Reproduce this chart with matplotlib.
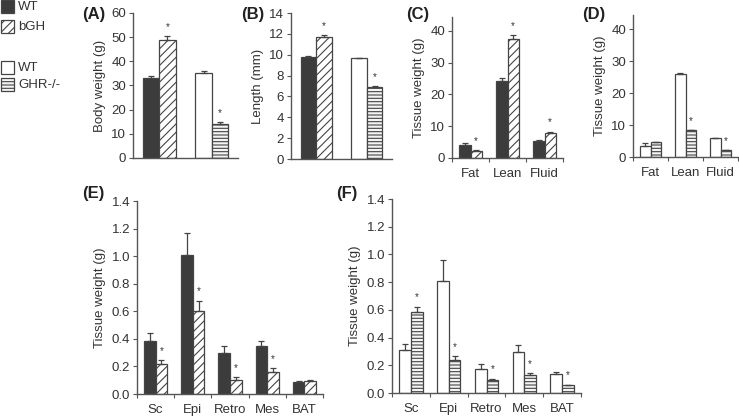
import numpy as np
import matplotlib
matplotlib.use("Agg")
import matplotlib.pyplot as plt
from matplotlib.patches import Rectangle

plt.rcParams['font.family'] = ['Liberation Sans', 'DejaVu Sans']
plt.rcParams['font.size'] = 9.5
plt.rcParams['hatch.linewidth'] = 0.8
plt.rcParams['text.color'] = '#333333'
plt.rcParams['axes.labelcolor'] = '#333333'
plt.rcParams['xtick.color'] = '#555555'
plt.rcParams['ytick.color'] = '#555555'
plt.rcParams['xtick.labelcolor'] = '#333333'
plt.rcParams['ytick.labelcolor'] = '#333333'

# (A) body weight
bw_wt1 = [33.0]; bw_wt1_err = [0.9]
bw_bgh = [49.0]; bw_bgh_err = [1.4]
bw_wt2 = [35.0]; bw_wt2_err = [1.1]
bw_ghr = [14.0]; bw_ghr_err = [0.7]

# (B) length
len_wt1 = [9.75]; len_wt1_err = [0.1]
len_bgh = [11.7]; len_bgh_err = [0.15]
len_wt2 = [9.7]; len_wt2_err = [0.0]
len_ghr = [6.95]; len_ghr_err = [0.05]

# (C) / (D) body composition
comp_labels = ['Fat', 'Lean', 'Fluid']
comp_wt1 = [4.0, 24.3, 5.5]; comp_wt1_err = [0.7, 0.8, 0.1]
comp_bgh = [2.3, 37.5, 8.0]; comp_bgh_err = [0.1, 1.2, 0.3]
comp_bgh_sig = [True, True, True]
comp_wt2 = [3.4, 25.9, 6.0]; comp_wt2_err = [1.0, 0.35, 0.0]
comp_ghr = [4.7, 8.5, 2.2]; comp_ghr_err = [0.1, 0.1, 0.1]
comp_ghr_sig = [False, True, True]

# (E) / (F) fat depots
depot_labels = ['Sc', 'Epi', 'Retro', 'Mes', 'BAT']
dep_wt1 = [0.386, 1.009, 0.297, 0.345, 0.087]
dep_wt1_err = [0.056, 0.157, 0.048, 0.041, 0.004]
dep_bgh = [0.22, 0.599, 0.104, 0.159, 0.094]
dep_bgh_err = [0.026, 0.079, 0.016, 0.029, 0.005]
dep_bgh_sig = [True, True, True, True, False]
dep_wt2 = [0.309, 0.809, 0.171, 0.297, 0.135]
dep_wt2_err = [0.048, 0.152, 0.041, 0.053, 0.017]
dep_ghr = [0.582, 0.241, 0.097, 0.128, 0.056]
dep_ghr_err = [0.041, 0.027, 0.007, 0.017, 0.004]
dep_ghr_sig = [True, True, True, True, True]

edge = '#444444'
dark = '#3c3c3c'
bw = 0.31

styles = {
    'wt1': dict(color=dark, edgecolor=edge),
    'bgh': dict(color='white', edgecolor=edge, hatch='////'),
    'wt2': dict(color='white', edgecolor=edge),
    'ghr': dict(color='#f4f4f4', edgecolor=edge, hatch='-----'),
}


def draw_bars(ax, xpos, vals, errs, style, sig=None):
    ax.bar(xpos, vals, bw, linewidth=0.9, **styles[style])
    ax.errorbar(xpos, vals, yerr=[np.zeros(len(vals)), errs], fmt='none',
                ecolor=edge, elinewidth=0.9, capsize=2.5, capthick=0.9)
    if sig is not None:
        for x, v, e, s in zip(xpos, vals, errs, sig):
            if s:
                ax.annotate('*', (x, v + e), xytext=(0, 3), textcoords='offset points',
                            ha='center', va='bottom', fontsize=7)


def style_axis(ax, ylim, yticks, fmt, ngroups, labels=None):
    ax.set_ylim(*ylim)
    ax.set_xlim(0, ngroups)
    ax.set_yticks(yticks)
    ax.set_yticklabels([fmt % t for t in yticks])
    for s in ['top', 'right']:
        ax.spines[s].set_visible(False)
    for s in ['left', 'bottom']:
        ax.spines[s].set_color('#555555')
        ax.spines[s].set_linewidth(1.0)
    ax.tick_params(axis='y', direction='out', length=3, width=0.8, pad=2)
    if labels is not None:
        ax.set_xticks(np.arange(ngroups) + 0.5)
        ax.set_xticklabels(labels)
        ax.set_xticks(np.arange(ngroups + 1), minor=True)
        ax.tick_params(axis='x', which='major', length=0, pad=7)
        ax.tick_params(axis='x', which='minor', direction='out', length=3, width=0.8)
    else:
        ax.set_xticks([])


fig = plt.figure(figsize=(7.39, 4.19), dpi=100)

def px_axes(l, r, t, b):
    return fig.add_axes([l / 739., (419 - b) / 419., (r - l) / 739., (b - t) / 419.])

# (A)
ax = px_axes(133, 238, 13, 158)
draw_bars(ax, [0.5 - bw / 2], bw_wt1, bw_wt1_err, 'wt1')
draw_bars(ax, [0.5 + bw / 2], bw_bgh, bw_bgh_err, 'bgh', [True])
draw_bars(ax, [1.5 - bw / 2], bw_wt2, bw_wt2_err, 'wt2')
draw_bars(ax, [1.5 + bw / 2], bw_ghr, bw_ghr_err, 'ghr', [True])
style_axis(ax, (0, 60), range(0, 61, 10), '%d', 2)
ax.set_ylabel('Body weight (g)')

# (B)
ax = px_axes(291, 392, 13, 159)
draw_bars(ax, [0.5 - bw / 2], len_wt1, len_wt1_err, 'wt1')
draw_bars(ax, [0.5 + bw / 2], len_bgh, len_bgh_err, 'bgh', [True])
draw_bars(ax, [1.5 - bw / 2], len_wt2, len_wt2_err, 'wt2')
draw_bars(ax, [1.5 + bw / 2], len_ghr, len_ghr_err, 'ghr', [True])
style_axis(ax, (0, 14), range(0, 15, 2), '%d', 2)
ax.set_ylabel('Length (mm)')

# (C)
x = np.arange(3) + 0.5
ax = px_axes(452, 563, 16.7, 158)
draw_bars(ax, x - bw / 2, comp_wt1, comp_wt1_err, 'wt1')
draw_bars(ax, x + bw / 2, comp_bgh, comp_bgh_err, 'bgh', comp_bgh_sig)
style_axis(ax, (0, 44.5), range(0, 41, 10), '%d', 3, comp_labels)
ax.set_ylabel('Tissue weight (g)')

# (D)
ax = px_axes(633, 738, 15, 157.3)
draw_bars(ax, x - bw / 2, comp_wt2, comp_wt2_err, 'wt2')
draw_bars(ax, x + bw / 2, comp_ghr, comp_ghr_err, 'ghr', comp_ghr_sig)
style_axis(ax, (0, 44.5), range(0, 41, 10), '%d', 3, comp_labels)
ax.set_ylabel('Tissue weight (g)')

# (E)
x = np.arange(5) + 0.5
ticks = np.arange(0, 1.41, 0.2)
ax = px_axes(137, 323, 201, 394)
draw_bars(ax, x - bw / 2, dep_wt1, dep_wt1_err, 'wt1')
draw_bars(ax, x + bw / 2, dep_bgh, dep_bgh_err, 'bgh', dep_bgh_sig)
style_axis(ax, (0, 1.4), ticks, '%.1f', 5, depot_labels)
ax.set_ylabel('Tissue weight (g)')

# (F)
ax = px_axes(392, 581, 199, 393)
draw_bars(ax, x - bw / 2, dep_wt2, dep_wt2_err, 'wt2')
draw_bars(ax, x + bw / 2, dep_ghr, dep_ghr_err, 'ghr', dep_ghr_sig)
style_axis(ax, (0, 1.4), ticks, '%.1f', 5, depot_labels)
ax.set_ylabel('Tissue weight (g)')

# panel letters
letters = [('(A)', 82, 15), ('(B)', 241, 15), ('(C)', 406, 15), ('(D)', 582, 15),
           ('(E)', 82, 193), ('(F)', 336, 193)]
for txt, px, py in letters:
    fig.text(px / 739., 1 - py / 419., txt, fontsize=12, fontweight='bold',
             color='#222222', ha='left', va='center')

# legend
legend_items = [('wt1', 'WT', 0), ('bgh', 'bGH', 20), ('wt2', 'WT', 61), ('ghr', 'GHR-/-', 78)]
for key, lab, top in legend_items:
    st = dict(styles[key])
    r = Rectangle((0.5 / 739., 1 - (top + 13) / 419.), 13 / 739., 13 / 419.,
                  transform=fig.transFigure, facecolor=st.pop('color'),
                  edgecolor=st.pop('edgecolor'), linewidth=0.9, **st)
    fig.add_artist(r)
    fig.text(18 / 739., 1 - (top + 7) / 419., lab, ha='left', va='center')

plt.savefig('out.png', dpi=100)
